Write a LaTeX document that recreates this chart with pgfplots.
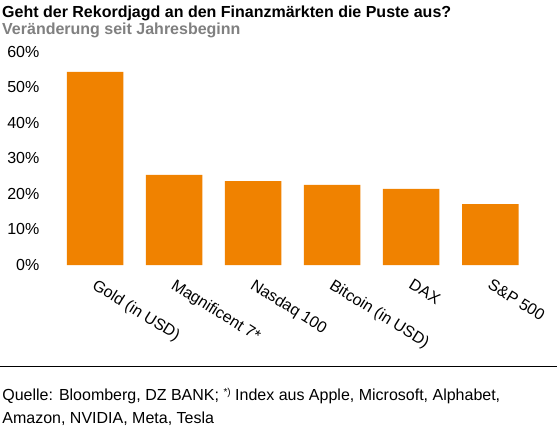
\documentclass[border=0pt]{standalone}
\usepackage{fontspec}
\setmainfont{Liberation Sans}
\usepackage{pgfplots}
\pgfplotsset{compat=1.18}
\definecolor{dzorange}{RGB}{240,130,0}
\definecolor{subgray}{RGB}{128,128,128}
\newcommand{\fs}{\fontsize{16bp}{19bp}\selectfont}
\begin{document}
\begin{tikzpicture}
\path[use as bounding box, fill=white] (0,0) rectangle (557bp,-432bp);
\node[anchor=base west, inner sep=0pt] at (2bp,-17.3bp) {\fs\bfseries Geht der Rekordjagd an den Finanzmärkten die Puste aus?};
\node[anchor=base west, inner sep=0pt, text=subgray] at (2bp,-34.3bp) {\fs\bfseries Veränderung seit Jahresbeginn};
\begin{axis}[
  at={(55.5bp,-265bp)}, anchor=south west,
  scale only axis, width=474.3bp, height=213.5bp,
  xmin=-0.5, xmax=5.5, ymin=0, ymax=60,
  ybar, bar width=56.5bp,
  axis line style={draw=none},
  major tick length=0pt,
  clip=false,
  ytick={0,10,20,30,40,50,60},
  yticklabels={0\%,10\%,20\%,30\%,40\%,50\%,60\%},
  yticklabel style={font=\fs, anchor=east, inner sep=0pt, xshift=-16bp},
  xtick={0,1,2,3,4,5},
  xticklabels={Gold (in USD),Magnificent 7*,Nasdaq 100,Bitcoin (in USD),DAX,S\&P 500},
  xticklabel style={font=\fs, xshift=2.5bp, yshift=-13bp, rotate=-32, anchor=north west, inner sep=0pt},
]
\addplot[fill=dzorange, draw=none] coordinates {(0,54.3) (1,25.3) (2,23.6) (3,22.5) (4,21.4) (5,17.1)};
\end{axis}
\draw[line width=1bp] (0,-366bp) -- (557bp,-366bp);
\node[anchor=base west, inner sep=0pt] at (2.2bp,-400bp) {\fs Quelle: Bloomberg, DZ BANK; {\fontsize{10bp}{12bp}\selectfont\raisebox{5bp}{*)}} Index aus Apple, Microsoft, Alphabet,};
\node[anchor=base west, inner sep=0pt] at (2.2bp,-423bp) {\fs Amazon, NVIDIA, Meta, Tesla};
\end{tikzpicture}
\end{document}
